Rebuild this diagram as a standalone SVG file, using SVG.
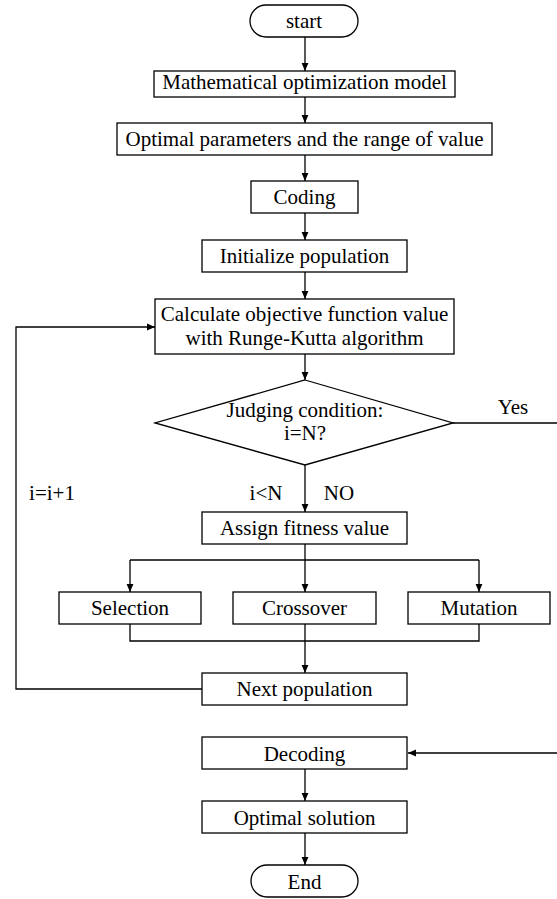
<svg xmlns="http://www.w3.org/2000/svg" width="557" height="899" viewBox="0 0 557 899" font-family="'Liberation Serif', Tinos, 'Times New Roman', 'DejaVu Serif', serif">
<style>
.box{fill:#fff;stroke:#000;stroke-width:1.3}
.ln{fill:none;stroke:#000;stroke-width:1.3}
text{font-family:'Liberation Serif', Tinos, 'Times New Roman', 'DejaVu Serif', serif;font-size:21px;fill:#000}
.c{text-anchor:middle}
</style>
<defs>
<marker id="ah" viewBox="0 0 8 8" refX="8" refY="4" markerWidth="8" markerHeight="8" markerUnits="userSpaceOnUse" orient="auto">
<path d="M0,0.6 L8,4 L0,7.4 Z" fill="#000"/>
</marker>
</defs>
<rect width="557" height="899" fill="#fff"/>
<g id="connectors">
<line class="ln" x1="305" y1="37" x2="305" y2="71" marker-end="url(#ah)"/>
<line class="ln" x1="305" y1="97" x2="305" y2="123" marker-end="url(#ah)"/>
<line class="ln" x1="305" y1="155" x2="305" y2="181" marker-end="url(#ah)"/>
<line class="ln" x1="305" y1="213" x2="305" y2="240" marker-end="url(#ah)"/>
<line class="ln" x1="305" y1="272" x2="305" y2="299" marker-end="url(#ah)"/>
<line class="ln" x1="305" y1="354" x2="305" y2="380" marker-end="url(#ah)"/>
<line class="ln" x1="305" y1="465" x2="305" y2="512" marker-end="url(#ah)"/>
<line class="ln" x1="305" y1="544" x2="305" y2="560"/>
<line class="ln" x1="130" y1="560" x2="479" y2="560"/>
<line class="ln" x1="130" y1="560" x2="130" y2="592" marker-end="url(#ah)"/>
<line class="ln" x1="305" y1="560" x2="305" y2="592" marker-end="url(#ah)"/>
<line class="ln" x1="479" y1="560" x2="479" y2="592" marker-end="url(#ah)"/>
<polyline class="ln" points="130,624 130,641 479,641 479,624"/>
<line class="ln" x1="305" y1="624" x2="305" y2="673" marker-end="url(#ah)"/>
<polyline class="ln" points="202,689 16,689 16,327 155,327" marker-end="url(#ah)"/>
<polyline class="ln" points="453,423 562,423 562,753 408,753" marker-end="url(#ah)"/>
<line class="ln" x1="305" y1="769" x2="305" y2="801" marker-end="url(#ah)"/>
<line class="ln" x1="305" y1="833" x2="305" y2="865" marker-end="url(#ah)"/>
<text x="513" y="414" class="c">Yes</text>
<text x="52" y="500" class="c">i=i+1</text>
<text x="266" y="500" class="c">i&lt;N</text>
<text x="339" y="500" class="c">NO</text>
</g>
<g id="start"><rect class="box" x="250" y="5" width="108" height="32" rx="16"/><text x="304" y="28" class="c">start</text></g>
<g id="model"><rect class="box" x="154" y="71" width="301" height="26"/><text x="304.5" y="89" class="c">Mathematical optimization model</text></g>
<g id="params"><rect class="box" x="117" y="123" width="375" height="32"/><text x="304.5" y="146" class="c">Optimal parameters and the range of value</text></g>
<g id="coding"><rect class="box" x="251" y="181" width="107" height="32"/><text x="304.5" y="204" class="c">Coding</text></g>
<g id="init"><rect class="box" x="202" y="240" width="205" height="32"/><text x="304.5" y="263" class="c">Initialize population</text></g>
<g id="calc"><rect class="box" x="155" y="299" width="299" height="55"/><text x="304.5" y="321" class="c">Calculate objective function value</text><text x="304.5" y="345" class="c">with Runge-Kutta algorithm</text></g>
<g id="judge"><polygon class="box" points="305,380 453,423 305,465 155,423"/><text x="305" y="417" class="c">Judging condition:</text><text x="305" y="440" class="c">i=N?</text></g>
<g id="fitness"><rect class="box" x="202" y="512" width="205" height="32"/><text x="304.5" y="535" class="c">Assign fitness value</text></g>
<g id="selection"><rect class="box" x="59" y="592" width="142" height="32"/><text x="130" y="615" class="c">Selection</text></g>
<g id="crossover"><rect class="box" x="233" y="592" width="143" height="32"/><text x="304.5" y="615" class="c">Crossover</text></g>
<g id="mutation"><rect class="box" x="408" y="592" width="142" height="32"/><text x="479" y="615" class="c">Mutation</text></g>
<g id="nextpop"><rect class="box" x="202" y="673" width="205" height="32"/><text x="304.5" y="696" class="c">Next population</text></g>
<g id="decoding"><rect class="box" x="202" y="737" width="205" height="32"/><text x="304.5" y="761" class="c">Decoding</text></g>
<g id="solution"><rect class="box" x="202" y="801" width="205" height="32"/><text x="304.5" y="825" class="c">Optimal solution</text></g>
<g id="end"><rect class="box" x="251" y="865" width="107" height="32" rx="16"/><text x="304.5" y="889" class="c">End</text></g>
</svg>
